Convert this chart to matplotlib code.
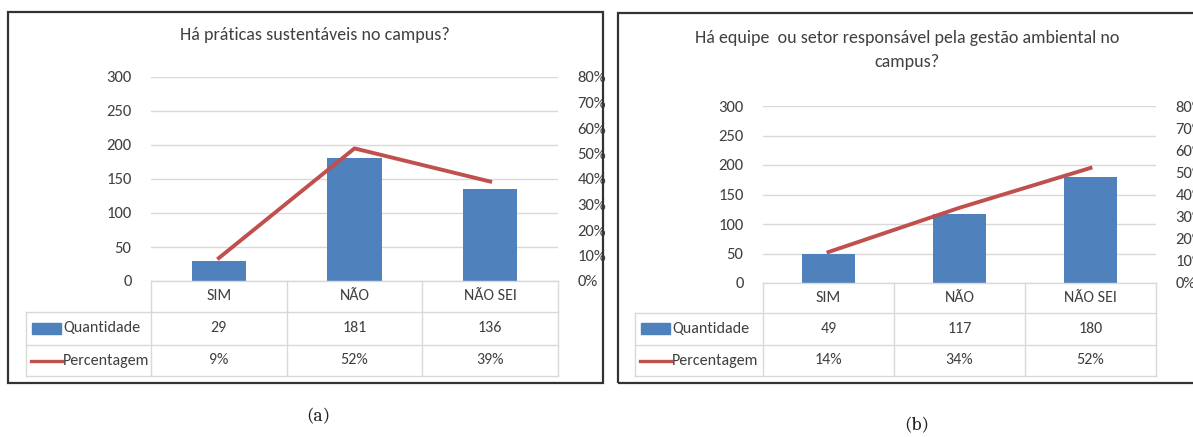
import matplotlib
matplotlib.use("Agg")
import matplotlib.pyplot as plt
from matplotlib.patches import Rectangle
from matplotlib.lines import Line2D
from matplotlib.ticker import FuncFormatter

plt.rcParams['font.family'] = ['Carlito', 'DejaVu Sans']

categorias = ['SIM', 'NÃO', 'NÃO SEI']

titulo_a = 'Há práticas sustentáveis no campus?'
quantidade_a = [29, 181, 136]
percentagem_a = [9, 52, 39]

titulo_b = 'Há equipe  ou setor responsável pela gestão ambiental no\ncampus?'
quantidade_b = [49, 117, 180]
percentagem_b = [14, 34, 52]

W, H = 1193, 437
AZUL = '#4F81BD'
VERMELHO = '#C0504D'
GRADE = '#D9D9D9'
TEXTO = '#404040'

fig = plt.figure(figsize=(W / 100, H / 100), dpi=100)


def fx(x):
    return x / W


def fy(y):
    return 1 - y / H


def hline(x0, x1, y):
    fig.add_artist(Line2D([fx(x0), fx(x1)], [fy(y), fy(y)], color=GRADE, lw=1))


def vline(x, y0, y1):
    fig.add_artist(Line2D([fx(x), fx(x)], [fy(y0), fy(y1)], color=GRADE, lw=1))


def painel(titulo, quant, perc, plot, leg_x, linhas, titulo_xy, moldura, legenda, leg_xy):
    l, t, r, b = plot
    # moldura do grafico
    ml, mt, mr, mb = moldura
    fig.add_artist(Rectangle((fx(ml), fy(mb)), fx(mr - ml), (mb - mt) / H,
                             fill=False, edgecolor='#333333', lw=1.6))

    ax = fig.add_axes([fx(l), fy(b), fx(r - l), (b - t) / H])
    x = list(range(len(categorias)))
    ax.bar(x, quant, width=0.4, color=AZUL, zorder=3)
    ax.set_xlim(-0.5, len(categorias) - 0.5)
    ax.set_ylim(0, 300)
    ax.set_yticks(range(0, 301, 50))
    ax.set_xticks([])
    ax.yaxis.grid(True, color=GRADE, lw=1)
    ax.set_axisbelow(True)
    for s in ax.spines.values():
        s.set_visible(False)
    ax.tick_params(axis='y', length=0, pad=14, labelsize=12, labelcolor=TEXTO)

    ax2 = ax.twinx()
    ax2.plot(x, [p / 100 for p in perc], color=VERMELHO, lw=2.8, zorder=4)
    ax2.set_ylim(0, 0.8)
    ax2.set_yticks([i / 10 for i in range(9)])
    ax2.yaxis.set_major_formatter(FuncFormatter(lambda v, pos: '%d%%' % round(v * 100)))
    for s in ax2.spines.values():
        s.set_visible(False)
    ax2.tick_params(axis='y', length=0, pad=14, labelsize=12, labelcolor=TEXTO)

    # tabela de dados abaixo do grafico
    cw = (r - l) / len(categorias)
    y_cab, y_q, y_p = linhas
    hline(l, r, b)
    for yy in (y_cab, y_q, y_p):
        hline(leg_x, r, yy)
    vline(leg_x, y_cab, y_p)
    for i in range(len(categorias) + 1):
        vline(l + i * cw, b, y_p)
    for i, cat in enumerate(categorias):
        cx = fx(l + (i + 0.5) * cw)
        fig.text(cx, fy((b + y_cab) / 2), cat, ha='center', va='center', fontsize=11.5, color=TEXTO)
        fig.text(cx, fy((y_cab + y_q) / 2), str(quant[i]), ha='center', va='center', fontsize=11.5, color=TEXTO)
        fig.text(cx, fy((y_q + y_p) / 2), '%d%%' % perc[i], ha='center', va='center', fontsize=11.5, color=TEXTO)

    yq = (y_cab + y_q) / 2
    yp = (y_q + y_p) / 2
    fig.add_artist(Rectangle((fx(leg_x + 6), fy(yq + 5)), fx(29), 11 / H, color=AZUL))
    fig.add_artist(Line2D([fx(leg_x + 5), fx(leg_x + 36)], [fy(yp), fy(yp)], color=VERMELHO, lw=2.4))
    fig.text(fx(leg_x + 37), fy(yq), 'Quantidade', ha='left', va='center', fontsize=11.5, color=TEXTO)
    fig.text(fx(leg_x + 37), fy(yp), 'Percentagem', ha='left', va='center', fontsize=11.5, color=TEXTO)

    fig.text(fx(titulo_xy[0]), fy(titulo_xy[1]), titulo, ha='center', va='top',
             fontsize=13, color=TEXTO, linespacing=1.65)
    fig.text(fx(leg_xy[0]), fy(leg_xy[1]), legenda, ha='center', va='center',
             fontsize=14, family='Caladea', color='#222222')


painel(titulo_a, quantidade_a, percentagem_a, (151, 77, 558, 281), 26, (312, 345, 376),
       (315, 27), (8, 12, 603, 383), '(a)', (318, 417))
painel(titulo_b, quantidade_b, percentagem_b, (763, 106, 1156, 283), 635, (313, 345, 376),
       (907, 30), (618, 13, 1210, 383), '(b)', (917, 426))

fig.savefig('out.png', dpi=100)
